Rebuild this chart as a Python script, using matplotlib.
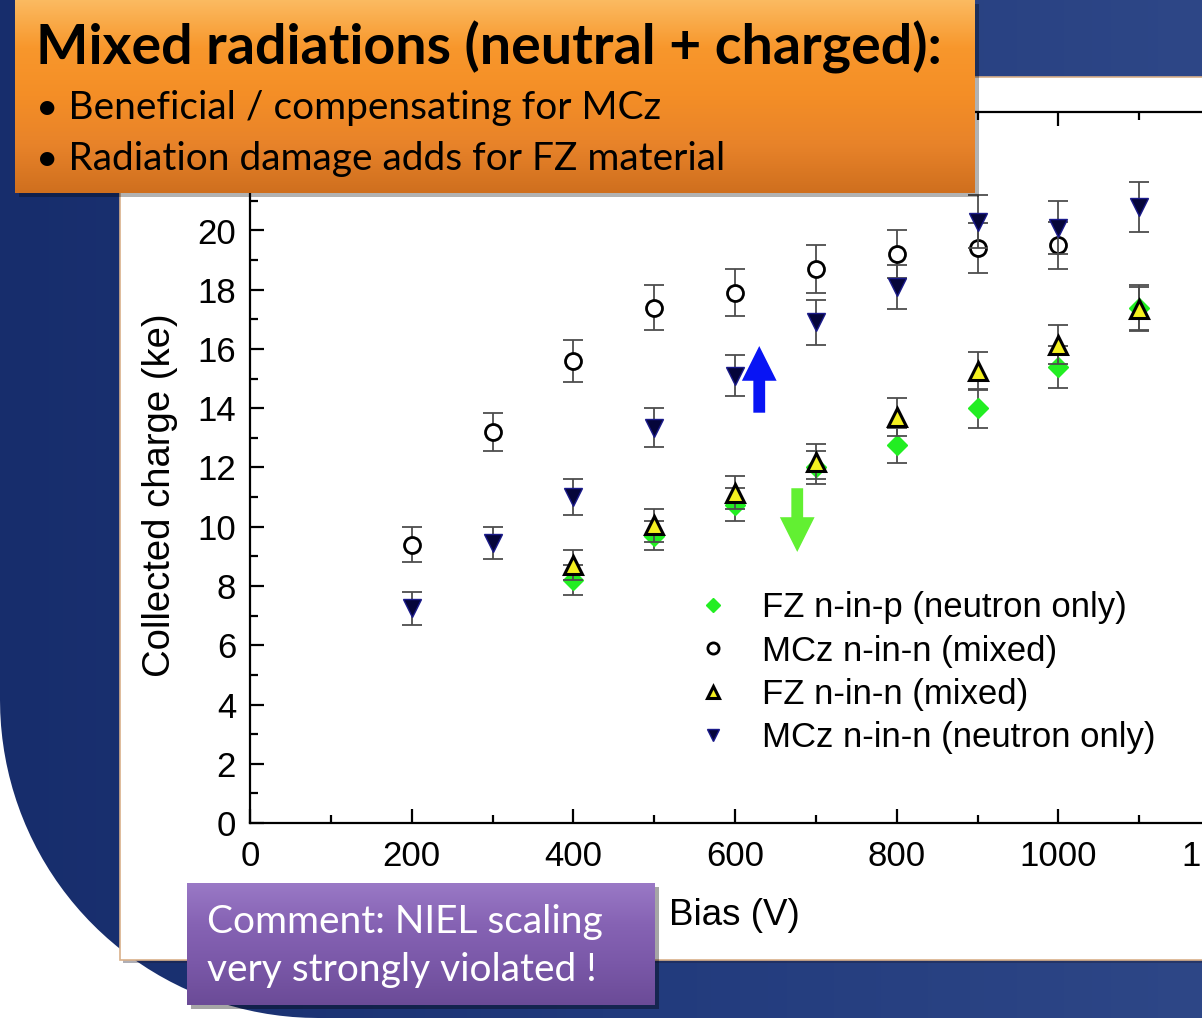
import numpy as np
import matplotlib
matplotlib.use("Agg")
import matplotlib.pyplot as plt
from matplotlib.colors import LinearSegmentedColormap
from matplotlib.patches import Rectangle, FancyArrowPatch, PathPatch
from matplotlib.path import Path
from matplotlib.ticker import MultipleLocator

plt.rcParams['font.family'] = ['Liberation Sans', 'DejaVu Sans']

# collected charge (ke) vs bias voltage (V)
bias_fz_p = [400, 500, 600, 700, 800, 900, 1000, 1100]
q_fz_p = [8.2, 9.7, 10.75, 12.0, 12.75, 14.0, 15.4, 17.4]
err_fz_p = [0.5, 0.5, 0.55, 0.55, 0.6, 0.65, 0.7, 0.75]

bias_mcz_mix = [200, 300, 400, 500, 600, 700, 800, 900, 1000]
q_mcz_mix = [9.4, 13.2, 15.6, 17.4, 17.9, 18.7, 19.2, 19.4, 19.5]
err_mcz_mix = [0.6, 0.65, 0.7, 0.75, 0.8, 0.8, 0.8, 0.85, 0.8]

bias_fz_mix = [400, 500, 600, 700, 800, 900, 1000, 1100]
q_fz_mix = [8.7, 10.05, 11.15, 12.2, 13.7, 15.25, 16.15, 17.35]
err_fz_mix = [0.5, 0.55, 0.55, 0.6, 0.65, 0.65, 0.65, 0.75]

bias_mcz_n = [200, 300, 400, 500, 600, 700, 800, 900, 1000, 1100]
q_mcz_n = [7.25, 9.45, 11.0, 13.35, 15.1, 16.9, 18.1, 20.3, 20.1, 20.8]
err_mcz_n = [0.55, 0.55, 0.6, 0.65, 0.7, 0.75, 0.75, 0.9, 0.9, 0.85]

labels = ["FZ n-in-p (neutron only)", "MCz n-in-n (mixed)",
          "FZ n-in-n (mixed)", "MCz n-in-n (neutron only)"]

title = "Mixed radiations (neutral + charged):"
bullets = ["Beneficial / compensating for MCz",
           "Radiation damage adds for FZ material"]
comment = "Comment: NIEL scaling\nvery strongly violated !"

W, H = 1202, 1021
fig = plt.figure(figsize=(W / 100, H / 100), dpi=100)
fig.patch.set_facecolor('white')


def pixel_axes(z):
    a = fig.add_axes([0, 0, 1, 1], zorder=z)
    a.set_xlim(0, W)
    a.set_ylim(H, 0)
    a.axis('off')
    a.patch.set_alpha(0)
    return a


def gradient(a, box, colors, clip, horizontal=False):
    x0, y0, x1, y1 = box
    cmap = LinearSegmentedColormap.from_list('g', colors)
    g = np.linspace(0, 1, 256)
    img = g[None, :] if horizontal else g[:, None]
    im = a.imshow(img, cmap=cmap, extent=(x0, x1, y1, y0), aspect='auto',
                  interpolation='bilinear', zorder=1)
    im.set_clip_path(clip)


# slide background: navy panel with a rounded lower-left corner
bg = pixel_axes(0)
r, y_bot = 318, 1018
t = np.linspace(np.pi / 2, np.pi, 40)
corner = np.column_stack([r + r * np.cos(t), (y_bot - r) + r * np.sin(t)])
verts = np.vstack([[[0, -5], [W + 5, -5], [W + 5, y_bot]], corner, [[0, -5]]])
navy = PathPatch(Path(verts), facecolor='none', edgecolor='none')
bg.add_patch(navy)
gradient(bg, (0, -5, W + 5, y_bot), ['#172d6c', '#213a7c', '#2e4787'], navy, horizontal=True)

# chart paper
bg.add_patch(Rectangle((123, 80), W, 883, facecolor='#1a1a30', alpha=0.35, zorder=2))
bg.add_patch(Rectangle((120, 77), W, 883, facecolor='white', edgecolor='#d9b08a', lw=1.2, zorder=3))

# chart
ax = fig.add_axes([250 / W, (H - 823) / H, 970 / W, 711 / H], zorder=1)
ax.patch.set_alpha(0)

ebar = dict(fmt='none', ecolor='#4d4d4d', elinewidth=1.3, capsize=7, capthick=1.3)
ax.errorbar(bias_fz_p, q_fz_p, yerr=err_fz_p, zorder=2, **ebar)
ax.plot(bias_fz_p, q_fz_p, ls='none', marker='D', ms=10, mfc='#22ee22', mec='#22ee22',
        label=labels[0], zorder=3)
ax.errorbar(bias_mcz_mix, q_mcz_mix, yerr=err_mcz_mix, zorder=4, **ebar)
ax.plot(bias_mcz_mix, q_mcz_mix, ls='none', marker='o', ms=11.5, mfc='white', mec='black',
        mew=2, label=labels[1], zorder=5)
ax.errorbar(bias_fz_mix, q_fz_mix, yerr=err_fz_mix, zorder=6, **ebar)
ax.plot(bias_fz_mix, q_fz_mix, ls='none', marker='^', ms=12.5, mfc='#f4f020', mec='black',
        mew=2.2, label=labels[2], zorder=7)
ax.errorbar(bias_mcz_n, q_mcz_n, yerr=err_mcz_n, zorder=8, **ebar)
ax.plot(bias_mcz_n, q_mcz_n, ls='none', marker='v', ms=13, mfc='#05053a', mec='#1a1a8a',
        mew=1, label=labels[3], zorder=9)

# trend arrows
arrow = 'simple,head_length=25,head_width=25,tail_width=8.5'
ax.add_patch(FancyArrowPatch((630, 13.85), (630, 16.1), mutation_scale=1, shrinkA=0, shrinkB=0,
                             arrowstyle=arrow, color='#0814f4', lw=0, zorder=10))
ax.add_patch(FancyArrowPatch((677, 11.3), (677, 9.15), mutation_scale=1, shrinkA=0, shrinkB=0,
                             arrowstyle=arrow, color='#62f032', lw=0, zorder=10))

ax.set_xlim(0, 1200)
ax.set_ylim(0, 24)
ax.xaxis.set_major_locator(MultipleLocator(200))
ax.xaxis.set_minor_locator(MultipleLocator(100))
ax.yaxis.set_minor_locator(MultipleLocator(1))
ax.set_yticks(np.arange(0, 22, 2))
ax.tick_params(which='both', direction='in', top=True, right=True, width=1.6, colors='black')
ax.tick_params(which='major', length=10, labelsize=25, pad=10)
ax.tick_params(axis='x', which='major', pad=12)
ax.tick_params(which='minor', length=5.5)
for s in ax.spines.values():
    s.set_linewidth(1.6)

ax.set_xlabel("Bias (V)", fontsize=26.5)
ax.set_ylabel("Collected charge (ke)", fontsize=27.5)
ax.xaxis.set_label_coords(0.499, -0.105)
ax.yaxis.set_label_coords(-0.074, 0.461)

ax.legend(loc='upper left', bbox_to_anchor=(0.4594, 0.326), frameon=False, fontsize=25,
          handlelength=1.0, handletextpad=0.91, borderpad=0, borderaxespad=0,
          labelspacing=0.3, markerscale=0.7)

# callout boxes
ov = pixel_axes(3)
ov.add_patch(Rectangle((19, 4), 960, 193, facecolor='black', alpha=0.3, zorder=0))
orange = Rectangle((15, 0), 960, 193, facecolor='none', edgecolor='none')
ov.add_patch(orange)
gradient(ov, (15, 0, 975, 193), ['#fbbb62', '#f8972c', '#f48e26', '#e8832a', '#cf6f1e'], orange)
ov.text(36, 47, title, fontsize=40, fontweight='bold', family='Lato', va='center', ha='left')
for i, b in enumerate(bullets):
    ov.text(36, 108 + 51 * i, "\u2022 " + b, fontsize=28, family='Lato', va='center', ha='left')

ov.add_patch(Rectangle((191, 887), 468, 122, facecolor='black', alpha=0.35, zorder=0))
purple = Rectangle((187, 883), 468, 122, facecolor='none', edgecolor='none')
ov.add_patch(purple)
gradient(ov, (187, 883, 655, 1005), ['#9a79c6', '#8663b4', '#7a58a8', '#6b4b97'], purple)
ov.text(207, 946, comment, fontsize=28, family='Lato', color='white', va='center', ha='left',
        linespacing=1.42)

fig.savefig('out.png', dpi=100)
